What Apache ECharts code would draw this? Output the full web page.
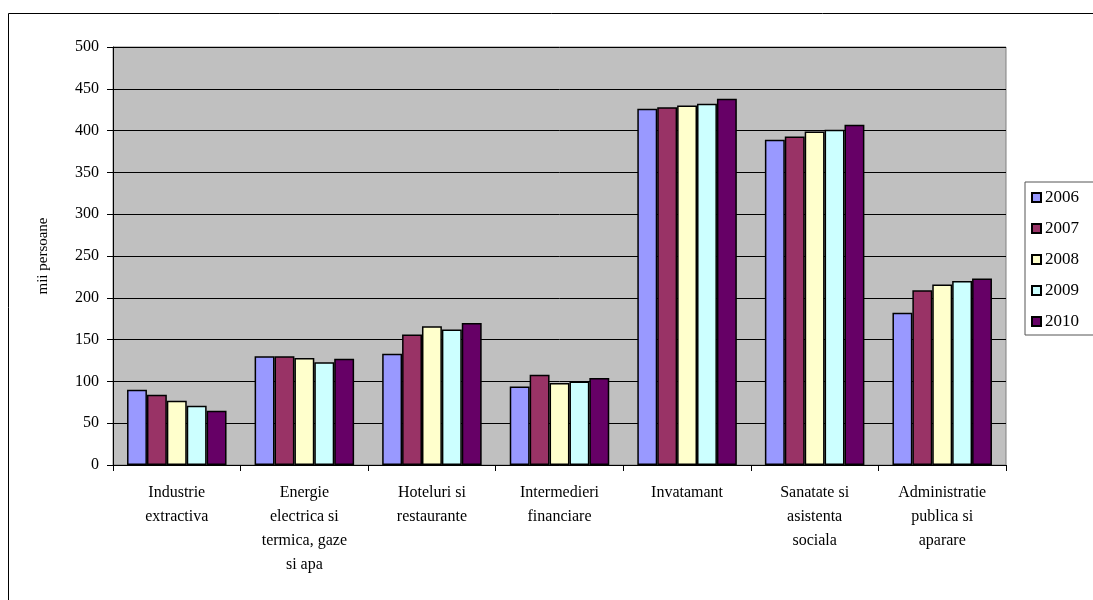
<!DOCTYPE html>
<html>
<head>
<meta charset="utf-8">
<script src="https://cdn.jsdelivr.net/npm/echarts@6/dist/echarts.min.js"></script>
<style>
  html, body { margin: 0; padding: 0; background: #fff; }
  #chart { width: 1093px; height: 600px; }
</style>
</head>
<body>
<div id="chart"></div>
<script>
const categories = [
  'Industrie\nextractiva',
  'Energie\nelectrica si\ntermica, gaze\nsi apa',
  'Hoteluri si\nrestaurante',
  'Intermedieri\nfinanciare',
  'Invatamant',
  'Sanatate si\nasistenta\nsociala',
  'Administratie\npublica si\naparare'
]
const years = ['2006', '2007', '2008', '2009', '2010']
const colors = ['#9999ff', '#993366', '#ffffcc', '#ccffff', '#660066']

const v2006 = [90, 130, 133, 94, 426, 389, 182]
const v2007 = [84, 130, 156, 108, 428, 393, 209]
const v2008 = [77, 128, 166, 98, 430, 399, 216]
const v2009 = [71, 123, 162, 100, 432, 401, 220]
const v2010 = [65, 127, 170, 104, 438, 407, 223]
const values = [v2006, v2007, v2008, v2009, v2010]

const yTicks = [0, 50, 100, 150, 200, 250, 300, 350, 400, 450, 500]

const font = 'Liberation Serif, Times New Roman, serif'

const chart = echarts.init(document.getElementById('chart'))

chart.setOption({
  backgroundColor: '#fff',
  animation: false,
  textStyle: { fontFamily: font, color: '#000' },
  graphic: [
    {
      type: 'rect',
      shape: { x: 8.5, y: 13.5, width: 1200, height: 620 },
      style: { fill: 'none', stroke: '#000', lineWidth: 1 },
      z: 100
    }
  ],
  legend: {
    orient: 'vertical',
    left: 1025,
    top: 182,
    padding: [7, 20, 5, 6],
    itemWidth: 9,
    itemHeight: 9,
    itemGap: 14,
    borderColor: '#555',
    borderWidth: 1,
    icon: 'rect',
    textStyle: { fontFamily: font, fontSize: 17, color: '#000', padding: [0, 0, 0, -1] },
    data: years
  },
  grid: {
    left: 113,
    top: 47,
    right: 87,
    bottom: 135,
    show: true,
    backgroundColor: '#c0c0c0',
    borderColor: '#808080',
    borderWidth: 1
  },
  xAxis: {
    type: 'category',
    data: categories,
    axisLine: { lineStyle: { color: '#000', width: 1 } },
    axisTick: { show: true, length: 6, lineStyle: { color: '#000' } },
    axisLabel: {
      fontFamily: font,
      fontSize: 16,
      color: '#000',
      margin: 16,
      lineHeight: 24,
      interval: 0
    }
  },
  yAxis: {
    type: 'value',
    min: yTicks[0],
    max: yTicks[yTicks.length - 1],
    interval: 50,
    name: 'mii persoane',
    nameLocation: 'middle',
    nameGap: 62,
    nameRotate: 90,
    nameTextStyle: { fontFamily: font, fontSize: 15, color: '#000' },
    axisLine: { show: true, lineStyle: { color: '#000', width: 1 } },
    axisTick: { show: true, length: 6, lineStyle: { color: '#000' } },
    axisLabel: { fontFamily: font, fontSize: 16, color: '#000', margin: 14 },
    splitLine: { show: true, lineStyle: { color: '#000', width: 1 } }
  },
  series: years.map((y, i) => ({
    name: y,
    type: 'bar',
    data: values[i],
    barGap: '0%',
    barCategoryGap: '22%',
    itemStyle: { color: colors[i], borderColor: '#000', borderWidth: 1.5 }
  }))
})
</script>
</body>
</html>
